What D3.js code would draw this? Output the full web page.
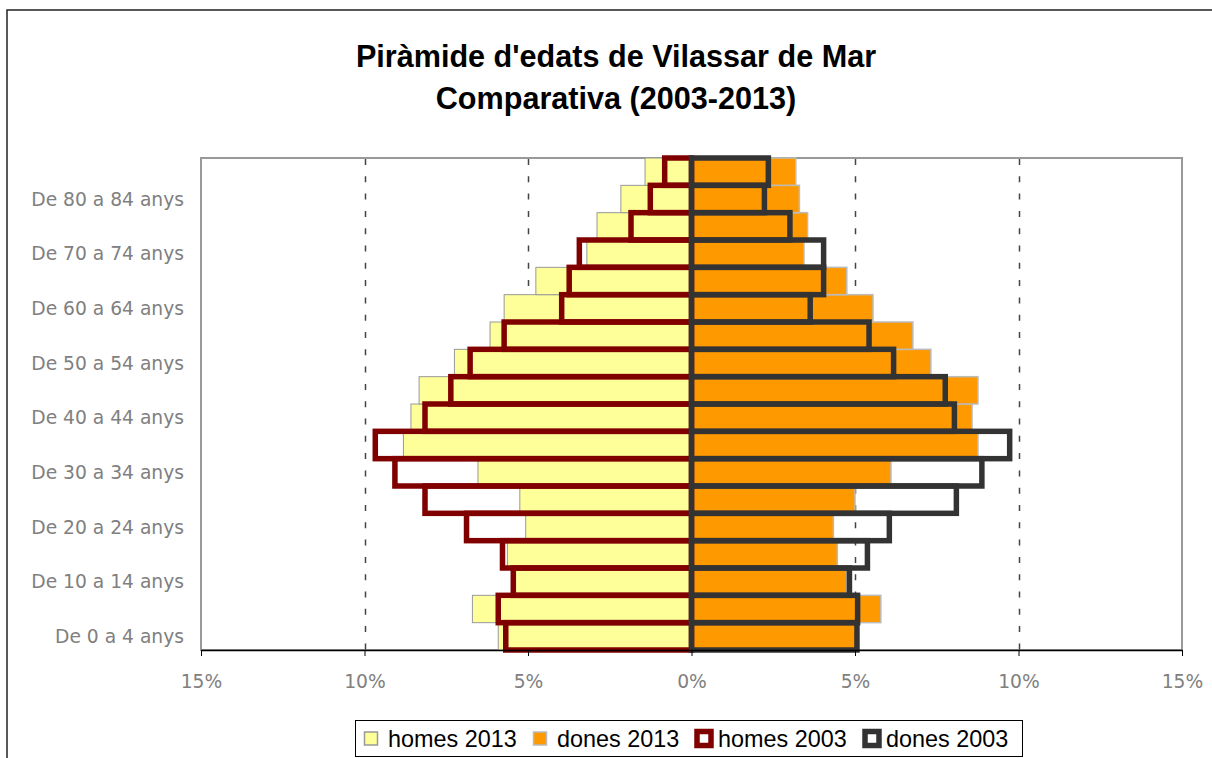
<!DOCTYPE html>
<html>
<head>
<meta charset="utf-8">
<script src="https://cdn.jsdelivr.net/npm/d3@7"></script>
<style>
  body { margin: 0; background: #fff; }
  svg { display: block; }
</style>
</head>
<body>
<div class="canvas"></div>
<script>
// age groups, bottom to top
const categories = ["De 0 a 4 anys", "De 5 a 9 anys", "De 10 a 14 anys", "De 15 a 19 anys",
  "De 20 a 24 anys", "De 25 a 29 anys", "De 30 a 34 anys", "De 35 a 39 anys",
  "De 40 a 44 anys", "De 45 a 49 anys", "De 50 a 54 anys", "De 55 a 59 anys",
  "De 60 a 64 anys", "De 65 a 69 anys", "De 70 a 74 anys", "De 75 a 79 anys",
  "De 80 a 84 anys", "De 85 anys i més"]

// % of population
const homes2013 = [5.91, 6.70, 5.38, 5.63, 5.07, 5.25, 6.53, 8.81, 8.58, 8.33, 7.25, 6.16, 5.73, 4.76, 3.20, 2.89, 2.16, 1.42]
const dones2013 = [5.10, 5.79, 4.75, 4.46, 4.34, 5.00, 6.10, 8.76, 8.58, 8.76, 7.32, 6.77, 5.55, 4.75, 3.44, 3.55, 3.30, 3.19]
const homes2003 = [5.68, 5.91, 5.45, 5.78, 6.88, 8.15, 9.07, 9.67, 8.15, 7.36, 6.77, 5.73, 3.97, 3.74, 3.43, 1.85, 1.26, 0.82]
const dones2003 = [5.06, 5.08, 4.83, 5.38, 6.05, 8.10, 8.88, 9.73, 8.04, 7.76, 6.18, 5.43, 3.63, 4.04, 4.04, 3.01, 2.23, 2.35]

const xTicks = [-15, -10, -5, 0, 5, 10, 15]
const gridTicks = [-10, -5, 5, 10]

const legendItems = [
  { name: "homes 2013", kind: "fill", color: "#ffff99", border: "#999" },
  { name: "dones 2013", kind: "fill", color: "#ff9900", border: "#bbb" },
  { name: "homes 2003", kind: "outline", color: "#800000" },
  { name: "dones 2003", kind: "outline", color: "#333333" }
]

const W = 1212, H = 758
const plot = { left: 201, right: 1182, top: 158, bottom: 650 }

const svg = d3.select(".canvas").append("svg")
  .attr("width", W)
  .attr("height", H)

// outer chart border
svg.append("rect")
  .attr("x", 7).attr("y", 10)
  .attr("width", W).attr("height", H)
  .attr("fill", "#fff")
  .attr("stroke", "#222")
  .attr("stroke-width", 1.5)

// title
const title = svg.append("text")
  .attr("text-anchor", "middle")
  .attr("font-family", "Liberation Sans, Arial, sans-serif")
  .attr("font-weight", "bold")
  .attr("font-size", 30.6)
  .attr("fill", "#000")
title.append("tspan").attr("x", 616).attr("y", 67).text("Piràmide d'edats de Vilassar de Mar")
title.append("tspan").attr("x", 616).attr("y", 109).text("Comparativa (2003-2013)")

const x = d3.scaleLinear().domain([-15, 15]).range([plot.left, plot.right])
const y = d3.scaleBand().domain(categories).range([plot.bottom, plot.top]).padding(0)

// plot area frame
svg.append("rect")
  .attr("x", plot.left).attr("y", plot.top)
  .attr("width", plot.right - plot.left)
  .attr("height", plot.bottom - plot.top)
  .attr("fill", "#fff")
  .attr("stroke", "#999")
  .attr("stroke-width", 2)

// dashed gridlines
svg.append("g").selectAll("line")
  .data(gridTicks)
  .enter().append("line")
  .attr("x1", d => Math.round(x(d)) + 0.5)
  .attr("x2", d => Math.round(x(d)) + 0.5)
  .attr("y1", plot.top + 1)
  .attr("y2", plot.bottom)
  .attr("stroke", "#444")
  .attr("stroke-width", 1.5)
  .attr("stroke-dasharray", "6,11.3")

// 2013 filled bars
const idx = d3.range(categories.length)

svg.append("g").selectAll("rect")
  .data(idx)
  .enter().append("rect")
  .attr("x", i => x(-homes2013[i]))
  .attr("y", i => y(categories[i]))
  .attr("width", i => x(0) - x(-homes2013[i]))
  .attr("height", y.bandwidth())
  .attr("fill", "#ffff99")
  .attr("stroke", "#999")
  .attr("stroke-width", 1)

svg.append("g").selectAll("rect")
  .data(idx)
  .enter().append("rect")
  .attr("x", x(0))
  .attr("y", i => y(categories[i]))
  .attr("width", i => x(dones2013[i]) - x(0))
  .attr("height", y.bandwidth())
  .attr("fill", "#ff9900")
  .attr("stroke", "#bbb")
  .attr("stroke-width", 1.5)

// 2003 outlined bars
svg.append("g").selectAll("rect")
  .data(idx)
  .enter().append("rect")
  .attr("x", i => x(-homes2003[i]))
  .attr("y", i => y(categories[i]))
  .attr("width", i => x(0) - x(-homes2003[i]))
  .attr("height", y.bandwidth())
  .attr("fill", "none")
  .attr("stroke", "#800000")
  .attr("stroke-width", 5.5)

svg.append("g").selectAll("rect")
  .data(idx)
  .enter().append("rect")
  .attr("x", x(0))
  .attr("y", i => y(categories[i]))
  .attr("width", i => x(dones2003[i]) - x(0))
  .attr("height", y.bandwidth())
  .attr("fill", "none")
  .attr("stroke", "#333333")
  .attr("stroke-width", 5.5)

// bottom axis
const xAxis = d3.axisBottom(x)
  .tickValues(xTicks)
  .tickFormat(d => Math.abs(d) + "%")
  .tickSize(6)
  .tickSizeOuter(0)

const gx = svg.append("g")
  .attr("transform", `translate(0,${plot.bottom})`)
  .call(xAxis)
gx.select(".domain").attr("stroke", "#000").attr("stroke-width", 1.5)
gx.selectAll(".tick line").attr("stroke", "#000")
gx.selectAll(".tick text")
  .attr("y", 25)
  .attr("dy", "0.71em")
  .attr("fill", "#808080")
  .attr("font-family", "DejaVu Sans, sans-serif")
  .attr("font-size", 18.7)

// category labels (every other one)
svg.append("g").selectAll("text")
  .data(categories.filter((d, i) => i % 2 === 0))
  .enter().append("text")
  .attr("x", 184)
  .attr("y", d => y(d) + y.bandwidth() / 2)
  .attr("dy", "0.36em")
  .attr("text-anchor", "end")
  .attr("fill", "#808080")
  .attr("font-family", "DejaVu Sans, sans-serif")
  .attr("font-size", 18.7)
  .text(d => d)

// legend
const legend = svg.append("g")
legend.append("rect")
  .attr("x", 355.5).attr("y", 720.5)
  .attr("width", 667).attr("height", 36)
  .attr("fill", "#fff")
  .attr("stroke", "#000")
  .attr("stroke-width", 1)

const legendX = [371, 540, 704, 872]
const item = legend.selectAll("g.item")
  .data(legendItems)
  .enter().append("g")
  .attr("class", "item")
  .attr("transform", (d, i) => `translate(${legendX[i]},738.5)`)

item.filter(d => d.kind === "fill").append("rect")
  .attr("x", -6.5).attr("y", -6.5)
  .attr("width", 13).attr("height", 13)
  .attr("fill", d => d.color)
  .attr("stroke", d => d.border)
  .attr("stroke-width", 1.5)

item.filter(d => d.kind === "outline").append("rect")
  .attr("x", -7).attr("y", -7)
  .attr("width", 14).attr("height", 14)
  .attr("fill", "#fff")
  .attr("stroke", d => d.color)
  .attr("stroke-width", 5.5)

item.append("text")
  .attr("x", (d, i) => d.kind === "fill" ? 17 : 14)
  .attr("y", 8)
  .attr("font-family", "Liberation Sans, Arial, sans-serif")
  .attr("font-size", 23.4)
  .attr("fill", "#000")
  .text(d => d.name)
</script>
</body>
</html>
